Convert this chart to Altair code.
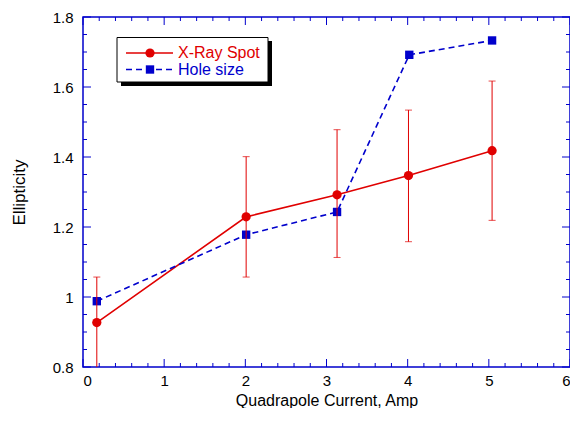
import altair as alt
import pandas as pd

# ---- data ----
xray_x = [0.17, 2.01, 3.13, 4.01, 5.04]
xray_y = [0.927, 1.229, 1.292, 1.347, 1.418]
xray_lo = [0.797, 1.057, 1.113, 1.158, 1.219]
xray_hi = [1.057, 1.401, 1.478, 1.534, 1.617]

hole_x = [0.17, 2.01, 3.13, 4.02, 5.04]
hole_y = [0.988, 1.178, 1.243, 1.692, 1.733]

x_labels = [0, 1, 2, 3, 4, 5, 6]
y_labels = [0.8, 1.0, 1.2, 1.4, 1.6, 1.8]
x_minor = [round(i * 0.2, 1) for i in range(31) if i % 5 != 0]
y_minor = [round(0.8 + i * 0.05, 2) for i in range(21) if i % 4 != 0]

series_names = ["X-Ray Spot", "Hole size"]

RED = "#e00000"
BLUE = "#0000cc"
W, H = 487, 350
FONT = "Liberation Sans"
MAJ, MIN = 8, 4

xray = pd.DataFrame({"x": xray_x, "y": xray_y, "lo": xray_lo, "hi": xray_hi})
hole = pd.DataFrame({"x": hole_x, "y": hole_y})

xs = alt.Scale(domain=[0, 6], nice=False, zero=False)
ys = alt.Scale(domain=[0.8, 1.8], nice=False, zero=False)

ax_x_lab = alt.Axis(orient="bottom", values=x_labels, ticks=False, domain=False, grid=False,
                    labelFont=FONT, labelFontSize=15, labelColor="black", labelPadding=6,
                    title="Quadrapole Current, Amp", titleFont=FONT, titleFontSize=16,
                    titleFontWeight="normal", titleColor="black",
                    titleBaseline="alphabetic", titleY=38)
ax_y_lab = alt.Axis(orient="left", values=y_labels, ticks=False, domain=False, grid=False,
                    format="~g", labelFont=FONT, labelFontSize=15, labelColor="black",
                    labelPadding=10, title="Ellipticity", titleFont=FONT, titleFontSize=17,
                    titleFontWeight="normal", titleColor="black", titlePadding=24)

red_line = alt.Chart(xray).mark_line(color=RED, strokeWidth=1.6).encode(
    x=alt.X("x:Q", scale=xs, axis=ax_x_lab), y=alt.Y("y:Q", scale=ys, axis=ax_y_lab))
blue_line = alt.Chart(hole).mark_line(color=BLUE, strokeWidth=1.6, strokeDash=[6, 4]).encode(
    x=alt.X("x:Q", scale=xs, axis=None), y=alt.Y("y:Q", scale=ys, axis=None))
blue_pts = alt.Chart(hole).mark_point(shape="square", filled=True, color=BLUE, size=70, opacity=1).encode(
    x=alt.X("x:Q", scale=xs, axis=None), y=alt.Y("y:Q", scale=ys, axis=None))
err_rule = alt.Chart(xray).mark_rule(color=RED, strokeWidth=1, clip=True).encode(
    x=alt.X("x:Q", scale=xs, axis=None), y=alt.Y("lo:Q", scale=ys, axis=None), y2="hi:Q")
err_lo = alt.Chart(xray).mark_tick(color=RED, orient="horizontal", size=7, thickness=1, clip=True).encode(
    x=alt.X("x:Q", scale=xs, axis=None), y=alt.Y("lo:Q", scale=ys, axis=None))
err_hi = alt.Chart(xray).mark_tick(color=RED, orient="horizontal", size=7, thickness=1, clip=True).encode(
    x=alt.X("x:Q", scale=xs, axis=None), y=alt.Y("hi:Q", scale=ys, axis=None))
red_pts = alt.Chart(xray).mark_point(shape="circle", filled=True, color=RED, size=85, opacity=1).encode(
    x=alt.X("x:Q", scale=xs, axis=None), y=alt.Y("y:Q", scale=ys, axis=None))

# ---- inward ticks on all four sides, positioned through the scales ----
def xticks(values, length):
    d = pd.DataFrame({"v": values})
    bot = alt.Chart(d).mark_rule(color=BLUE, strokeWidth=1).encode(
        x=alt.X("v:Q", scale=xs, axis=None), y=alt.value(H), y2=alt.value(H - length))
    top = alt.Chart(d).mark_rule(color=BLUE, strokeWidth=1).encode(
        x=alt.X("v:Q", scale=xs, axis=None), y=alt.value(0), y2=alt.value(length))
    return [bot, top]

def yticks(values, length):
    d = pd.DataFrame({"v": values})
    left = alt.Chart(d).mark_rule(color=BLUE, strokeWidth=1).encode(
        y=alt.Y("v:Q", scale=ys, axis=None), x=alt.value(0), x2=alt.value(length))
    right = alt.Chart(d).mark_rule(color=BLUE, strokeWidth=1).encode(
        y=alt.Y("v:Q", scale=ys, axis=None), x=alt.value(W), x2=alt.value(W - length))
    return [left, right]

tick_layers = xticks(x_labels, MAJ) + xticks(x_minor, MIN) + yticks(y_labels, MAJ) + yticks(y_minor, MIN)

# ---- legend box (drawn in pixel space) ----
one = pd.DataFrame({"a": [0]})
shadow = alt.Chart(one).mark_rect(color="black").encode(
    x=alt.value(38), x2=alt.value(189), y=alt.value(24), y2=alt.value(69))
box = alt.Chart(one).mark_rect(fill="white", stroke="black", strokeWidth=1).encode(
    x=alt.value(34), x2=alt.value(185), y=alt.value(20.5), y2=alt.value(65))
leg_red_line = alt.Chart(one).mark_rule(color=RED, strokeWidth=1.6).encode(
    x=alt.value(43), x2=alt.value(90), y=alt.value(36))
leg_red_pt = alt.Chart(one).mark_point(shape="circle", filled=True, color=RED, size=85, opacity=1).encode(
    x=alt.value(67), y=alt.value(36))
leg_red_txt = alt.Chart(pd.DataFrame({"t": [series_names[0]]})).mark_text(
    align="left", baseline="middle", font=FONT, fontSize=16, color=RED).encode(
    x=alt.value(95), y=alt.value(36), text="t:N")
leg_blue_line = alt.Chart(one).mark_rule(color=BLUE, strokeWidth=1.6, strokeDash=[6, 4]).encode(
    x=alt.value(43), x2=alt.value(90), y=alt.value(52.5))
leg_blue_pt = alt.Chart(one).mark_point(shape="square", filled=True, color=BLUE, size=70, opacity=1).encode(
    x=alt.value(67), y=alt.value(52.5))
leg_blue_txt = alt.Chart(pd.DataFrame({"t": [series_names[1]]})).mark_text(
    align="left", baseline="middle", font=FONT, fontSize=16, color=BLUE).encode(
    x=alt.value(95), y=alt.value(52.5), text="t:N")

chart = alt.layer(
    red_line, *tick_layers, blue_line, blue_pts, err_rule, err_lo, err_hi, red_pts,
    shadow, box, leg_red_line, leg_red_pt, leg_red_txt, leg_blue_line, leg_blue_pt, leg_blue_txt,
).resolve_axis(x="independent", y="independent").properties(
    width=W, height=H,
    autosize=alt.AutoSizeParams(type="none"),
    padding={"left": 75, "top": 9, "right": 0, "bottom": 41},
    background="white",
).configure_view(stroke=BLUE, strokeWidth=1.5)

chart.save("out.html", embed_options={"renderer": "svg", "actions": False})
